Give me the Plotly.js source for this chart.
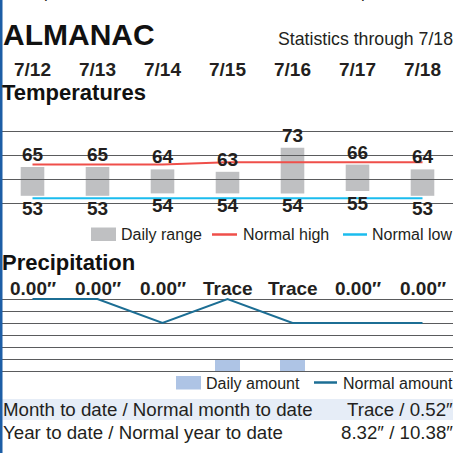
<!DOCTYPE html>
<html>
<head>
<meta charset="utf-8">
<script src="https://cdn.plot.ly/plotly-3.0.1.min.js"></script>
<style>
html,body{margin:0;padding:0;background:#fff;overflow:hidden;}
#chart{width:453px;height:453px;}
</style>
</head>
<body>
<div id="chart"></div>
<script>
// ---- data ----
const dates = ['7/12','7/13','7/14','7/15','7/16','7/17','7/18'];
const highs = [65,65,64,63,73,66,64];
const lows = [53,53,54,54,54,55,53];
const normalHigh = [66,66,66,67,67,67,67];
const normalLow = [52,52,52,52,52,52,52];
const precipLabels = ['0.00″','0.00″','0.00″','Trace','Trace','0.00″','0.00″'];
const precipAmount = [0,0,0,0.005,0.005,0,0];   // Trace drawn as a small bar
const normalPrecip = [0.03,0.03,0.02,0.03,0.02,0.02,0.02];
const tableLabels = ['Month to date / Normal month to date','Year to date / Normal year to date'];
const tableValues = ['Trace / 0.52″','8.32″ / 10.38″'];
const headerNote = 'The patented AccuWeather.com RealFeel Temperature® is an';

// ---- styling helpers ----
const W = 453, H = 453;
const px = v => v / W;
const py = v => (H - v) / H;
const TXT = '#231f20';
const FONT = 'Liberation Sans, Arial, sans-serif';
const idx = dates.map((d, i) => i);

// bars live on subplots xy / x2y2; grid + lines live on subplots x3y3 / x4y4 drawn on top
const traces = [
  {type:'bar', x: idx, y: highs.map((h,i)=>h-lows[i]), base: lows, width:0.363,
   marker:{color:'#bfc0c2'}, xaxis:'x', yaxis:'y', showlegend:false},
  {type:'bar', x: idx, y: precipAmount, width:0.385,
   marker:{color:'#aec4e5'}, xaxis:'x2', yaxis:'y2', showlegend:false},
  {type:'scatter', mode:'lines', x: idx, y: normalHigh, line:{color:'#ef4f4a', width:2},
   xaxis:'x3', yaxis:'y3', showlegend:false},
  {type:'scatter', mode:'lines', x: idx, y: normalLow, line:{color:'#1bbcee', width:2},
   xaxis:'x3', yaxis:'y3', showlegend:false},
  {type:'scatter', mode:'lines', x: idx, y: normalPrecip, line:{color:'#1c6e94', width:2},
   xaxis:'x4', yaxis:'y4', showlegend:false}
];

const annotations = [];
const A = (o) => annotations.push(Object.assign({showarrow:false, font:{family:FONT, size:16, color:TXT}}, o));

// header
A({text:headerNote, xref:'paper', yref:'paper', x:px(8), y:py(4), xanchor:'left', yanchor:'bottom', font:{family:FONT,size:17,color:TXT}});
A({text:'<b>ALMANAC</b>', xref:'paper', yref:'paper', x:px(1), y:py(34), xanchor:'left', yanchor:'middle', font:{family:FONT,size:30,color:'#111'}});
A({text:'Statistics through 7/18', xref:'paper', yref:'paper', x:px(455), y:py(39), xanchor:'right', yanchor:'middle', font:{family:FONT,size:17.7,color:TXT}});
// date row
dates.forEach((d,i)=>A({text:'<b>'+d+'</b>', xref:'x', yref:'paper', x:i, y:py(69), xanchor:'center', yanchor:'middle', font:{family:FONT,size:19,color:TXT}}));
A({text:'<b>Temperatures</b>', xref:'paper', yref:'paper', x:px(0), y:py(92), xanchor:'left', yanchor:'middle', font:{family:FONT,size:22,color:'#111'}});
// value labels
highs.forEach((h,i)=>A({text:'<b>'+h+'</b>', xref:'x', yref:'y', x:i, y:h, xanchor:'center', yanchor:'bottom', yshift:0, font:{family:FONT,size:19,color:TXT}}));
lows.forEach((l,i)=>A({text:'<b>'+l+'</b>', xref:'x', yref:'y', x:i, y:l, xanchor:'center', yanchor:'top', yshift:0, font:{family:FONT,size:19,color:TXT}}));
// temp legend
A({text:'Daily range', xref:'paper', yref:'paper', x:px(118.5), y:py(234.5), xanchor:'left', yanchor:'middle'});
A({text:'Normal high', xref:'paper', yref:'paper', x:px(241), y:py(234.5), xanchor:'left', yanchor:'middle'});
A({text:'Normal low', xref:'paper', yref:'paper', x:px(370), y:py(234.5), xanchor:'left', yanchor:'middle'});
// precipitation
A({text:'<b>Precipitation</b>', xref:'paper', yref:'paper', x:px(0), y:py(262), xanchor:'left', yanchor:'middle', font:{family:FONT,size:22,color:'#111'}});
precipLabels.forEach((t,i)=>A({text:'<b>'+t+'</b>', xref:'x2', yref:'paper', x:i, y:py(288), xanchor:'center', yanchor:'middle', font:{family:FONT,size:19,color:TXT}}));
A({text:'Daily amount', xref:'paper', yref:'paper', x:px(203.5), y:py(383), xanchor:'left', yanchor:'middle'});
A({text:'Normal amount', xref:'paper', yref:'paper', x:px(341), y:py(383), xanchor:'left', yanchor:'middle'});
// table
tableLabels.forEach((t,i)=>A({text:t, xref:'paper', yref:'paper', x:px(1), y:py(409.5+23*i), xanchor:'left', yanchor:'middle', font:{family:FONT,size:18.7,color:TXT}}));
tableValues.forEach((t,i)=>A({text:t, xref:'paper', yref:'paper', x:px(455), y:py(409.5+23*i), xanchor:'right', yanchor:'middle', font:{family:FONT,size:18.7,color:TXT}}));

const shapes = [
  // table band
  {type:'rect', xref:'paper', yref:'paper', x0:0, x1:1, y0:py(420), y1:py(399), fillcolor:'#e6edf7', line:{width:0}, layer:'below'},
  // temp legend swatches
  {type:'rect', xref:'paper', yref:'paper', x0:px(91), x1:px(116), y0:py(241), y1:py(227.5), fillcolor:'#bfc0c2', line:{width:0}},
  {type:'line', xref:'paper', yref:'paper', x0:px(212), x1:px(237), y0:py(234.5), y1:py(234.5), line:{color:'#ef4f4a', width:2.5}},
  {type:'line', xref:'paper', yref:'paper', x0:px(343), x1:px(367), y0:py(234.5), y1:py(234.5), line:{color:'#1bbcee', width:2.5}},
  // precip legend swatches
  {type:'rect', xref:'paper', yref:'paper', x0:px(176), x1:px(201), y0:py(389.5), y1:py(376), fillcolor:'#aec4e5', line:{width:0}},
  {type:'line', xref:'paper', yref:'paper', x0:px(314), x1:px(337), y0:py(382.5), y1:py(382.5), line:{color:'#1c6e94', width:2.5}},
  // left blue rule
  {type:'rect', xref:'paper', yref:'paper', x0:0, x1:px(2.5), y0:0, y1:1, fillcolor:'#1d5ea6', line:{width:0}, layer:'above'}
];

const xr = [-0.5, (W - 32.5) / 65];
const yAxisCommon = {gridcolor:'#5a5b5d', gridwidth:1, zeroline:false, showline:false,
  showticklabels:false, ticks:'', fixedrange:true};
// temperature: 2.4 px per degree, 50 at y=203, 80 at y=131 (range padded 2.5 deg each side)
// precipitation: 2400 px per inch, 0 at y=371, 0.03 at y=299 (range padded 0.0025 each side)
const tDom = [py(209), py(125)], tRange = [47.5, 82.5];
const pDom = [py(377), py(293)], pRange = [-0.0025, 0.0325];
const xAx = (anchor) => ({domain:[0,1], range:xr, visible:false, anchor, fixedrange:true});
const layout = {
  width:W, height:H, margin:{l:0,r:0,t:0,b:0}, paper_bgcolor:'#fff', plot_bgcolor:'rgba(0,0,0,0)',
  showlegend:false, barmode:'overlay', hovermode:false,
  xaxis:xAx('y'), xaxis2:xAx('y2'), xaxis3:xAx('y3'), xaxis4:xAx('y4'),
  yaxis:Object.assign({domain:tDom, range:tRange, anchor:'x', showgrid:false}, yAxisCommon),
  yaxis2:Object.assign({domain:pDom, range:pRange, anchor:'x2', showgrid:false}, yAxisCommon),
  yaxis3:Object.assign({domain:tDom, range:tRange, anchor:'x3', showgrid:true, dtick:10, tick0:0}, yAxisCommon),
  yaxis4:Object.assign({domain:pDom, range:pRange, anchor:'x4', showgrid:true, dtick:0.005, tick0:0}, yAxisCommon),
  annotations, shapes
};
Plotly.newPlot('chart', traces, layout, {staticPlot:true, displayModeBar:false});
</script>
</body>
</html>
